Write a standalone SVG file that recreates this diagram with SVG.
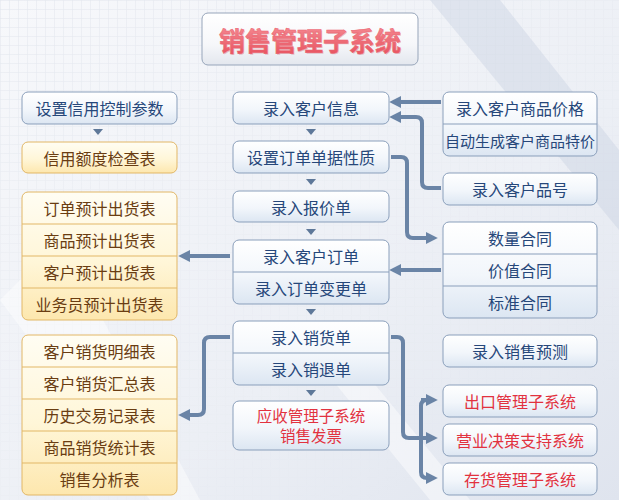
<svg xmlns="http://www.w3.org/2000/svg" width="619" height="500" viewBox="0 0 619 500">
<defs>
  <linearGradient id="bg" x1="0" y1="0" x2="1" y2="1">
    <stop offset="0" stop-color="#f7f8fb"/>
    <stop offset="0.6" stop-color="#eceff5"/>
    <stop offset="1" stop-color="#dfe4ee"/>
  </linearGradient>
  <pattern id="grid" width="9" height="9" patternUnits="userSpaceOnUse">
    <path d="M9 0H0V9" fill="none" stroke="#dde2ea" stroke-width="1"/>
  </pattern>
  <linearGradient id="gridFade" x1="0" y1="0" x2="0.6" y2="1">
    <stop offset="0" stop-color="#fff" stop-opacity="0.9"/>
    <stop offset="0.5" stop-color="#fff" stop-opacity="0.3"/>
    <stop offset="1" stop-color="#fff" stop-opacity="0"/>
  </linearGradient>
  <mask id="gridMask">
    <rect width="619" height="500" fill="url(#gridFade)"/>
  </mask>
  <linearGradient id="blueBox" x1="0" y1="0" x2="0" y2="1">
    <stop offset="0" stop-color="#ffffff"/>
    <stop offset="0.55" stop-color="#f2f6fb"/>
    <stop offset="1" stop-color="#dce6f2"/>
  </linearGradient>
  <linearGradient id="yelBox" x1="0" y1="0" x2="0" y2="1">
    <stop offset="0" stop-color="#fffdf3"/>
    <stop offset="0.55" stop-color="#fff6d8"/>
    <stop offset="1" stop-color="#fde7ae"/>
  </linearGradient>
  <linearGradient id="titleBox" x1="0" y1="0" x2="0" y2="1">
    <stop offset="0" stop-color="#ffffff"/>
    <stop offset="0.6" stop-color="#f6f7fa"/>
    <stop offset="1" stop-color="#e3e7ee"/>
  </linearGradient>
  <linearGradient id="titleText" x1="0" y1="0" x2="0" y2="1">
    <stop offset="0" stop-color="#f7939b"/>
    <stop offset="1" stop-color="#e64e5b"/>
  </linearGradient>
  <marker id="ah" viewBox="0 0 10 10" refX="6" refY="5" markerWidth="3" markerHeight="3.2" orient="auto" markerUnits="strokeWidth">
    <path d="M0 0L10 5L0 10z" fill="#6a84a6"/>
  </marker>
  <style>
    .bb{fill:url(#blueBox);stroke:#8a9fbb;stroke-width:1}
    .yb{fill:url(#yelBox);stroke:#e2b766;stroke-width:1}
    .sep{stroke:#8a9fbb;stroke-width:1}
    .ysep{stroke:#e2b766;stroke-width:1}
    text{font-family:"Noto Sans CJK SC","Noto Sans",sans-serif;text-anchor:middle;dominant-baseline:central;font-size:16px}
    .bt{fill:#26477a}
    .yt{fill:#6a3d12}
    .rt{fill:#e2323f}
    .tri{fill:#5e7899}
    .con{fill:none;stroke:#6a84a6;stroke-width:4;stroke-linejoin:round;stroke-linecap:butt}
    .ttl{font-size:26px;font-weight:bold}
  </style>
</defs>
<rect width="619" height="500" fill="url(#bg)"/>
<rect width="619" height="500" fill="url(#grid)" mask="url(#gridMask)"/>
<g opacity="0.45">
  <polygon points="430,0 500,0 619,150 619,230" fill="#c9d2e2"/>
  <polygon points="0,300 60,240 200,500 150,500" fill="#ffffff"/>
  <polygon points="300,340 330,330 470,500 430,500" fill="#ffffff"/>
</g>

<g id="title">
  <rect x="202" y="13" width="216" height="52" rx="6" fill="url(#titleBox)" stroke="#97a5ba"/>
  <text class="ttl" x="311" y="40.5" fill="#c04a55" opacity="0.3">销售管理子系统</text>
  <text class="ttl" x="310" y="39" fill="url(#titleText)" stroke="#ec6470" stroke-width="0.5">销售管理子系统</text>
</g>

<g id="connectors">
  <path class="con" d="M441 102H394" marker-end="url(#ah)"/>
  <path class="con" d="M441 188H428Q422 188 422 182V123Q422 117 416 117H394" marker-end="url(#ah)"/>
  <path class="con" d="M391 157H401Q407 157 407 163V232Q407 238 413 238H433" marker-end="url(#ah)"/>
  <path class="con" d="M441 270H394" marker-end="url(#ah)"/>
  <path class="con" d="M230 256H183" marker-end="url(#ah)"/>
  <path class="con" d="M230 337H210Q204 337 204 343V409Q204 415 198 415H183" marker-end="url(#ah)"/>
  <path class="con" d="M391 337H397Q403 337 403 343V432Q403 438 409 438H433" marker-end="url(#ah)"/>
  <path class="con" d="M433 400H427Q421 400 421 406V472Q421 478 427 478H433" marker-end="url(#ah)"/>
  <path class="con" d="M421 400H433" marker-end="url(#ah)"/>
  <polygon class="tri" points="93,129 103,129 98,135"/>
  <polygon class="tri" points="306,129 316,129 311,135"/>
  <polygon class="tri" points="306,179 316,179 311,185"/>
  <polygon class="tri" points="306,229 316,229 311,235"/>
  <polygon class="tri" points="306,309 316,309 311,315"/>
  <polygon class="tri" points="306,390 316,390 311,396"/>
</g>

<g id="n-credit-param">
  <rect class="bb" x="22" y="92" width="155" height="32" rx="6"/>
  <text class="bt" x="99.5" y="108">设置信用控制参数</text>
</g>
<g id="n-credit-check">
  <rect class="yb" x="22" y="142" width="155" height="31" rx="6"/>
  <text class="yt" x="99.5" y="158">信用额度检查表</text>
</g>
<g id="n-forecast-reports">
  <rect class="yb" x="22" y="192" width="155" height="128" rx="6"/>
  <line class="ysep" x1="22" y1="224" x2="177" y2="224"/>
  <line class="ysep" x1="22" y1="256" x2="177" y2="256"/>
  <line class="ysep" x1="22" y1="288" x2="177" y2="288"/>
  <text class="yt" x="99.5" y="208">订单预计出货表</text>
  <text class="yt" x="99.5" y="240">商品预计出货表</text>
  <text class="yt" x="99.5" y="272">客户预计出货表</text>
  <text class="yt" x="99.5" y="304">业务员预计出货表</text>
</g>
<g id="n-sales-reports">
  <rect class="yb" x="22" y="335" width="155" height="160" rx="6"/>
  <line class="ysep" x1="22" y1="367" x2="177" y2="367"/>
  <line class="ysep" x1="22" y1="399" x2="177" y2="399"/>
  <line class="ysep" x1="22" y1="431" x2="177" y2="431"/>
  <line class="ysep" x1="22" y1="463" x2="177" y2="463"/>
  <text class="yt" x="99.5" y="351">客户销货明细表</text>
  <text class="yt" x="99.5" y="383">客户销货汇总表</text>
  <text class="yt" x="99.5" y="415">历史交易记录表</text>
  <text class="yt" x="99.5" y="447">商品销货统计表</text>
  <text class="yt" x="99.5" y="479">销售分析表</text>
</g>

<g id="n-customer-info">
  <rect class="bb" x="233" y="92" width="156" height="32" rx="6"/>
  <text class="bt" x="311" y="108">录入客户信息</text>
</g>
<g id="n-order-props">
  <rect class="bb" x="233" y="141" width="156" height="32" rx="6"/>
  <text class="bt" x="311" y="157">设置订单单据性质</text>
</g>
<g id="n-quote">
  <rect class="bb" x="233" y="191" width="156" height="31" rx="6"/>
  <text class="bt" x="311" y="207">录入报价单</text>
</g>
<g id="n-order">
  <rect class="bb" x="233" y="240" width="156" height="64" rx="6"/>
  <line class="sep" x1="233" y1="272" x2="389" y2="272"/>
  <text class="bt" x="311" y="256">录入客户订单</text>
  <text class="bt" x="311" y="288">录入订单变更单</text>
</g>
<g id="n-sales">
  <rect class="bb" x="233" y="321" width="156" height="64" rx="6"/>
  <line class="sep" x1="233" y1="353" x2="389" y2="353"/>
  <text class="bt" x="311" y="337">录入销货单</text>
  <text class="bt" x="311" y="369">录入销退单</text>
</g>
<g id="n-ar">
  <rect class="bb" x="233" y="401" width="156" height="49" rx="6"/>
  <text class="rt" x="311" y="415" style="font-size:15.5px">应收管理子系统</text>
  <text class="rt" x="311" y="435" style="font-size:15.5px">销售发票</text>
</g>

<g id="n-price">
  <rect class="bb" x="443" y="92" width="154" height="64" rx="6"/>
  <line class="sep" x1="443" y1="124" x2="597" y2="124"/>
  <text class="bt" x="520" y="108">录入客户商品价格</text>
  <text class="bt" x="520" y="140" style="font-size:15px">自动生成客户商品特价</text>
</g>
<g id="n-item-no">
  <rect class="bb" x="443" y="173" width="154" height="32" rx="6"/>
  <text class="bt" x="520" y="189">录入客户品号</text>
</g>
<g id="n-contracts">
  <rect class="bb" x="443" y="222" width="154" height="96" rx="6"/>
  <line class="sep" x1="443" y1="254" x2="597" y2="254"/>
  <line class="sep" x1="443" y1="286" x2="597" y2="286"/>
  <text class="bt" x="520" y="238">数量合同</text>
  <text class="bt" x="520" y="270">价值合同</text>
  <text class="bt" x="520" y="302">标准合同</text>
</g>
<g id="n-forecast">
  <rect class="bb" x="443" y="335" width="154" height="32" rx="6"/>
  <text class="bt" x="520" y="351">录入销售预测</text>
</g>
<g id="n-export">
  <rect class="bb" x="443" y="385" width="154" height="32" rx="6"/>
  <text class="rt" x="520" y="401">出口管理子系统</text>
</g>
<g id="n-dss">
  <rect class="bb" x="443" y="424" width="154" height="32" rx="6"/>
  <text class="rt" x="520" y="440">营业决策支持系统</text>
</g>
<g id="n-inventory">
  <rect class="bb" x="443" y="463" width="154" height="32" rx="6"/>
  <text class="rt" x="520" y="479">存货管理子系统</text>
</g>
</svg>
